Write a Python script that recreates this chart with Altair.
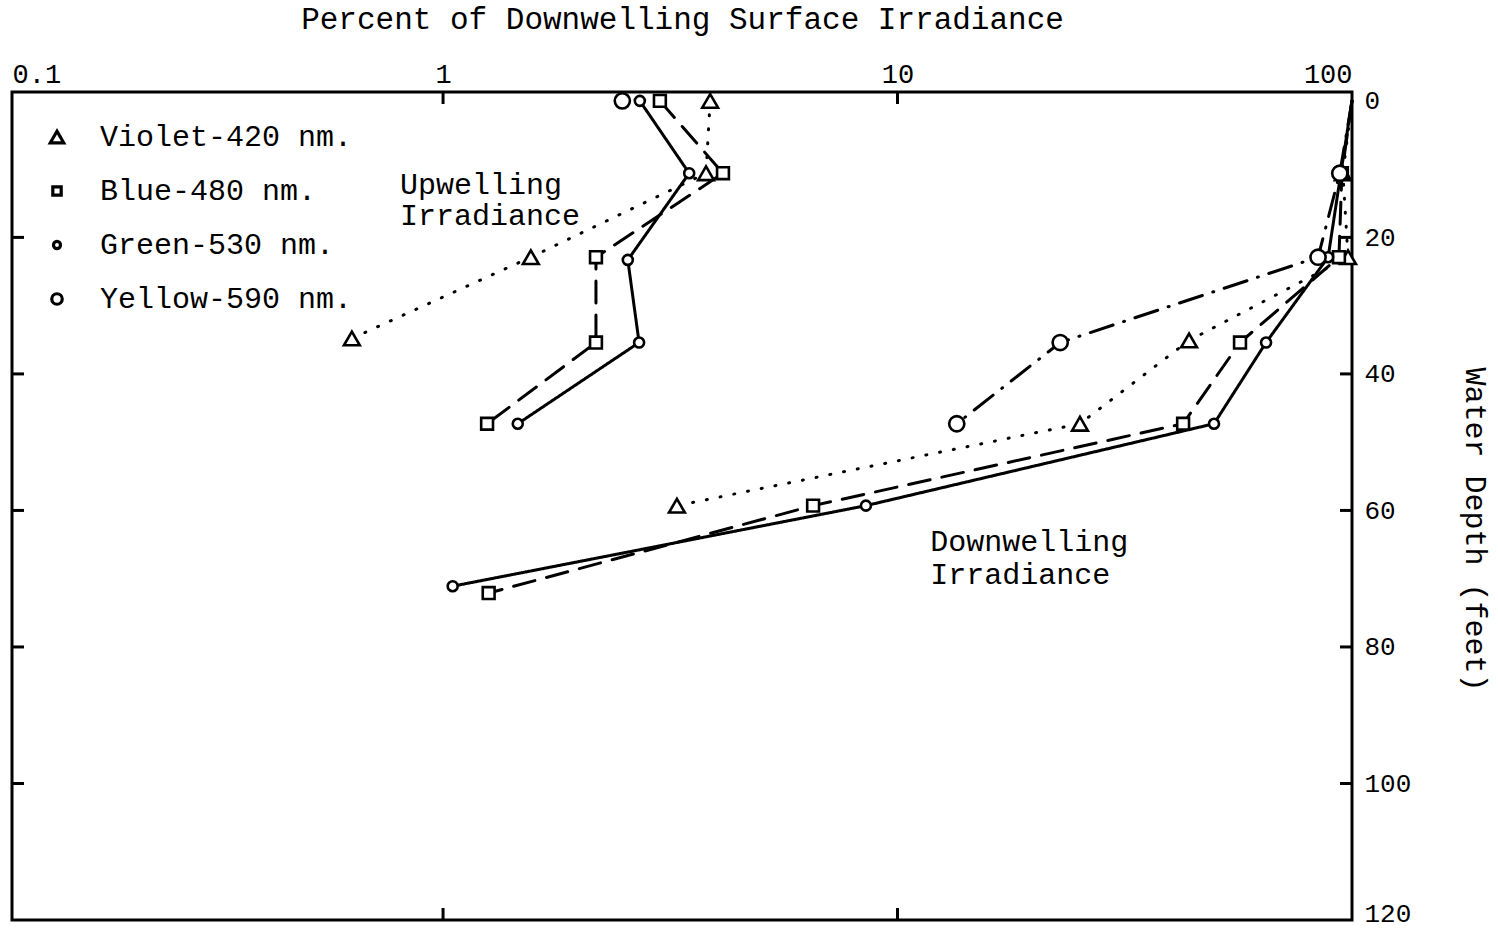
import altair as alt
import pandas as pd

# ---- series definitions -------------------------------------------------
SERIES = ["Violet-420 nm.", "Blue-480 nm.", "Green-530 nm.", "Yellow-590 nm."]
SHAPES = ["triangle-up", "square", "circle", "circle"]
SIZES = [250, 140, 100, 230]          # symbol area on the curves
KEY_SIZES = [180, 70, 50, 110]        # symbol area in the key
DASHES = [[1, 13], [22, 12], [1, 0], [24, 11, 1, 11]]

# ---- upwelling irradiance (depth in feet, percent of surface downwelling)
UP_VIOLET_DEPTH = [0, 10.6, 22.9, 34.8]
UP_VIOLET_PCT = [3.87, 3.79, 1.56, 0.63]
UP_BLUE_DEPTH = [0, 10.6, 22.9, 35.4, 47.3]
UP_BLUE_PCT = [3.00, 4.13, 2.17, 2.17, 1.25]
UP_GREEN_DEPTH = [0, 10.6, 23.3, 35.4, 47.3]
UP_GREEN_PCT = [2.71, 3.48, 2.55, 2.70, 1.46]
UP_YELLOW_DEPTH = [0]
UP_YELLOW_PCT = [2.48]

# ---- downwelling irradiance
DOWN_VIOLET_DEPTH = [0, 10.6, 22.9, 35.1, 47.3, 59.3]
DOWN_VIOLET_PCT = [100, 95.5, 98.0, 43.8, 25.2, 3.27]
DOWN_BLUE_DEPTH = [0, 10.6, 22.9, 35.4, 47.3, 59.3, 72.1]
DOWN_BLUE_PCT = [100, 95.0, 93.6, 56.7, 42.5, 6.52, 1.26]
DOWN_GREEN_DEPTH = [0, 10.6, 22.9, 35.4, 47.3, 59.3, 71.1]
DOWN_GREEN_PCT = [100, 94.5, 88.6, 64.7, 49.7, 8.52, 1.05]
DOWN_YELLOW_DEPTH = [0, 10.6, 22.9, 35.4, 47.3]
DOWN_YELLOW_PCT = [100, 94.0, 84.2, 22.8, 13.5]

# ---- axis ticks and annotation text
X_TICKS = [1, 10, 100]
X_EDGE = 0.1126          # left edge of the log axis, labelled "0.1"
Y_TICKS = [0, 20, 40, 60, 80, 100, 120]
Y_INNER_TICKS = [20, 40, 60, 80, 100]
NOTE_TEXT = ["Upwelling", "Irradiance", "Downwelling", "Irradiance"]
NOTE_PCT = [0.804, 0.804, 11.8, 11.8]
NOTE_DEPTH = [12.3, 16.9, 64.6, 69.5]

FONT = "Liberation Mono"
W, H = 1340, 828

profiles = [
    ("Upwelling", SERIES[0], UP_VIOLET_DEPTH, UP_VIOLET_PCT),
    ("Upwelling", SERIES[1], UP_BLUE_DEPTH, UP_BLUE_PCT),
    ("Upwelling", SERIES[2], UP_GREEN_DEPTH, UP_GREEN_PCT),
    ("Upwelling", SERIES[3], UP_YELLOW_DEPTH, UP_YELLOW_PCT),
    ("Downwelling", SERIES[0], DOWN_VIOLET_DEPTH, DOWN_VIOLET_PCT),
    ("Downwelling", SERIES[1], DOWN_BLUE_DEPTH, DOWN_BLUE_PCT),
    ("Downwelling", SERIES[2], DOWN_GREEN_DEPTH, DOWN_GREEN_PCT),
    ("Downwelling", SERIES[3], DOWN_YELLOW_DEPTH, DOWN_YELLOW_PCT),
]
rows = []
for profile, series, depths, pcts in profiles:
    for d, p in zip(depths, pcts):
        rows.append({
            "trace": f"{profile} {series}",
            "profile": profile,
            "series": series,
            "style": series,
            "depth": d,
            "pct": p,
            # the 100 % surface reference of the downwelling curves has no symbol
            "marker": not (profile == "Downwelling" and d == 0),
        })
df = pd.DataFrame(rows)

x_scale = alt.Scale(type="log", domain=[X_EDGE, 100], nice=False)
y_scale = alt.Scale(domain=[-1.3, 120], reverse=True, nice=False, zero=False)

x_axis = alt.Axis(
    orient="top", values=[X_EDGE] + X_TICKS,
    labelExpr="datum.value < 0.5 ? '0.1' : datum.label",
    title="Percent of Downwelling Surface Irradiance",
    labelFlush=True, labelPadding=4, labelFontSize=27,
    titlePadding=25, titleFontSize=31,
)
y_axis = alt.Axis(
    orient="right", values=Y_TICKS, title="Water Depth (feet)",
    labelPadding=12, labelFontSize=26, labelAlign="left",
    labelFlush=True, labelFlushOffset=6,
    titleAngle=90, titlePadding=49, titleFontSize=30, titleY=437,
)

X = alt.X("pct:Q", scale=x_scale, axis=x_axis)
Y = alt.Y("depth:Q", scale=y_scale, axis=y_axis)

lines = alt.Chart(df).mark_line(color="black", strokeWidth=3, strokeCap="round").encode(
    x=X, y=Y,
    detail="trace:N",
    order=alt.Order("depth:Q"),
    strokeDash=alt.StrokeDash("style:N", scale=alt.Scale(domain=SERIES, range=DASHES), legend=None),
)

points = alt.Chart(df).transform_filter("datum.marker").mark_point(
    filled=True, fill="white", stroke="black", strokeWidth=2.6, opacity=1
).encode(
    x=X, y=Y,
    shape=alt.Shape("series:N", scale=alt.Scale(domain=SERIES, range=SHAPES), legend=None),
    size=alt.Size("series:N", scale=alt.Scale(type="ordinal", domain=SERIES, range=SIZES), legend=None),
)

notes = alt.Chart(pd.DataFrame({"text": NOTE_TEXT, "pct": NOTE_PCT, "depth": NOTE_DEPTH})).mark_text(
    align="left", baseline="middle", font=FONT, fontSize=30, color="black"
).encode(x=X, y=Y, text="text:N")

# symbol key in the upper-left corner of the plot
key_layers = []
KEY_X, KEY_TEXT_X, KEY_Y0, KEY_DY = 45, 88, 45, 54
for i, name in enumerate(SERIES):
    key_df = pd.DataFrame({"series": [name]})
    ky = KEY_Y0 + i * KEY_DY
    key_layers.append(
        alt.Chart(key_df).mark_point(
            shape=SHAPES[i], size=KEY_SIZES[i], filled=True, fill="white",
            stroke="black", strokeWidth=3.2, opacity=1,
        ).encode(x=alt.value(KEY_X), y=alt.value(ky))
    )
    key_layers.append(
        alt.Chart(key_df).mark_text(
            align="left", baseline="middle", font=FONT, fontSize=30, color="black"
        ).encode(x=alt.value(KEY_TEXT_X), y=alt.value(ky), text="series:N")
    )

# inward tick marks along the frame
xt = pd.DataFrame({"pct": [1, 10]})
top_ticks = alt.Chart(xt).mark_rule(color="black", strokeWidth=3).encode(
    x=X, y=alt.value(0), y2=alt.value(12))
bottom_ticks = alt.Chart(xt).mark_rule(color="black", strokeWidth=3).encode(
    x=X, y=alt.value(H - 12), y2=alt.value(H))
yt = pd.DataFrame({"depth": Y_INNER_TICKS})
right_ticks = alt.Chart(yt).mark_rule(color="black", strokeWidth=3).encode(
    y=Y, x=alt.value(W - 12), x2=alt.value(W))
left_ticks = alt.Chart(yt).mark_rule(color="black", strokeWidth=3).encode(
    y=Y, x=alt.value(0), x2=alt.value(12))

chart = alt.layer(
    top_ticks, bottom_ticks, right_ticks, left_ticks, lines, points, notes, *key_layers
).properties(
    width=W, height=H,
    padding={"left": 12, "top": 92, "right": 146, "bottom": 9},
    autosize="none",
    background="white",
).configure_view(
    stroke="black", strokeWidth=3
).configure_axis(
    domain=False, ticks=False, grid=False,
    labelFont=FONT, titleFont=FONT, labelColor="black", titleColor="black",
    titleFontWeight="normal",
)

chart.save("out.html", embed_options={"renderer": "svg", "actions": False})
